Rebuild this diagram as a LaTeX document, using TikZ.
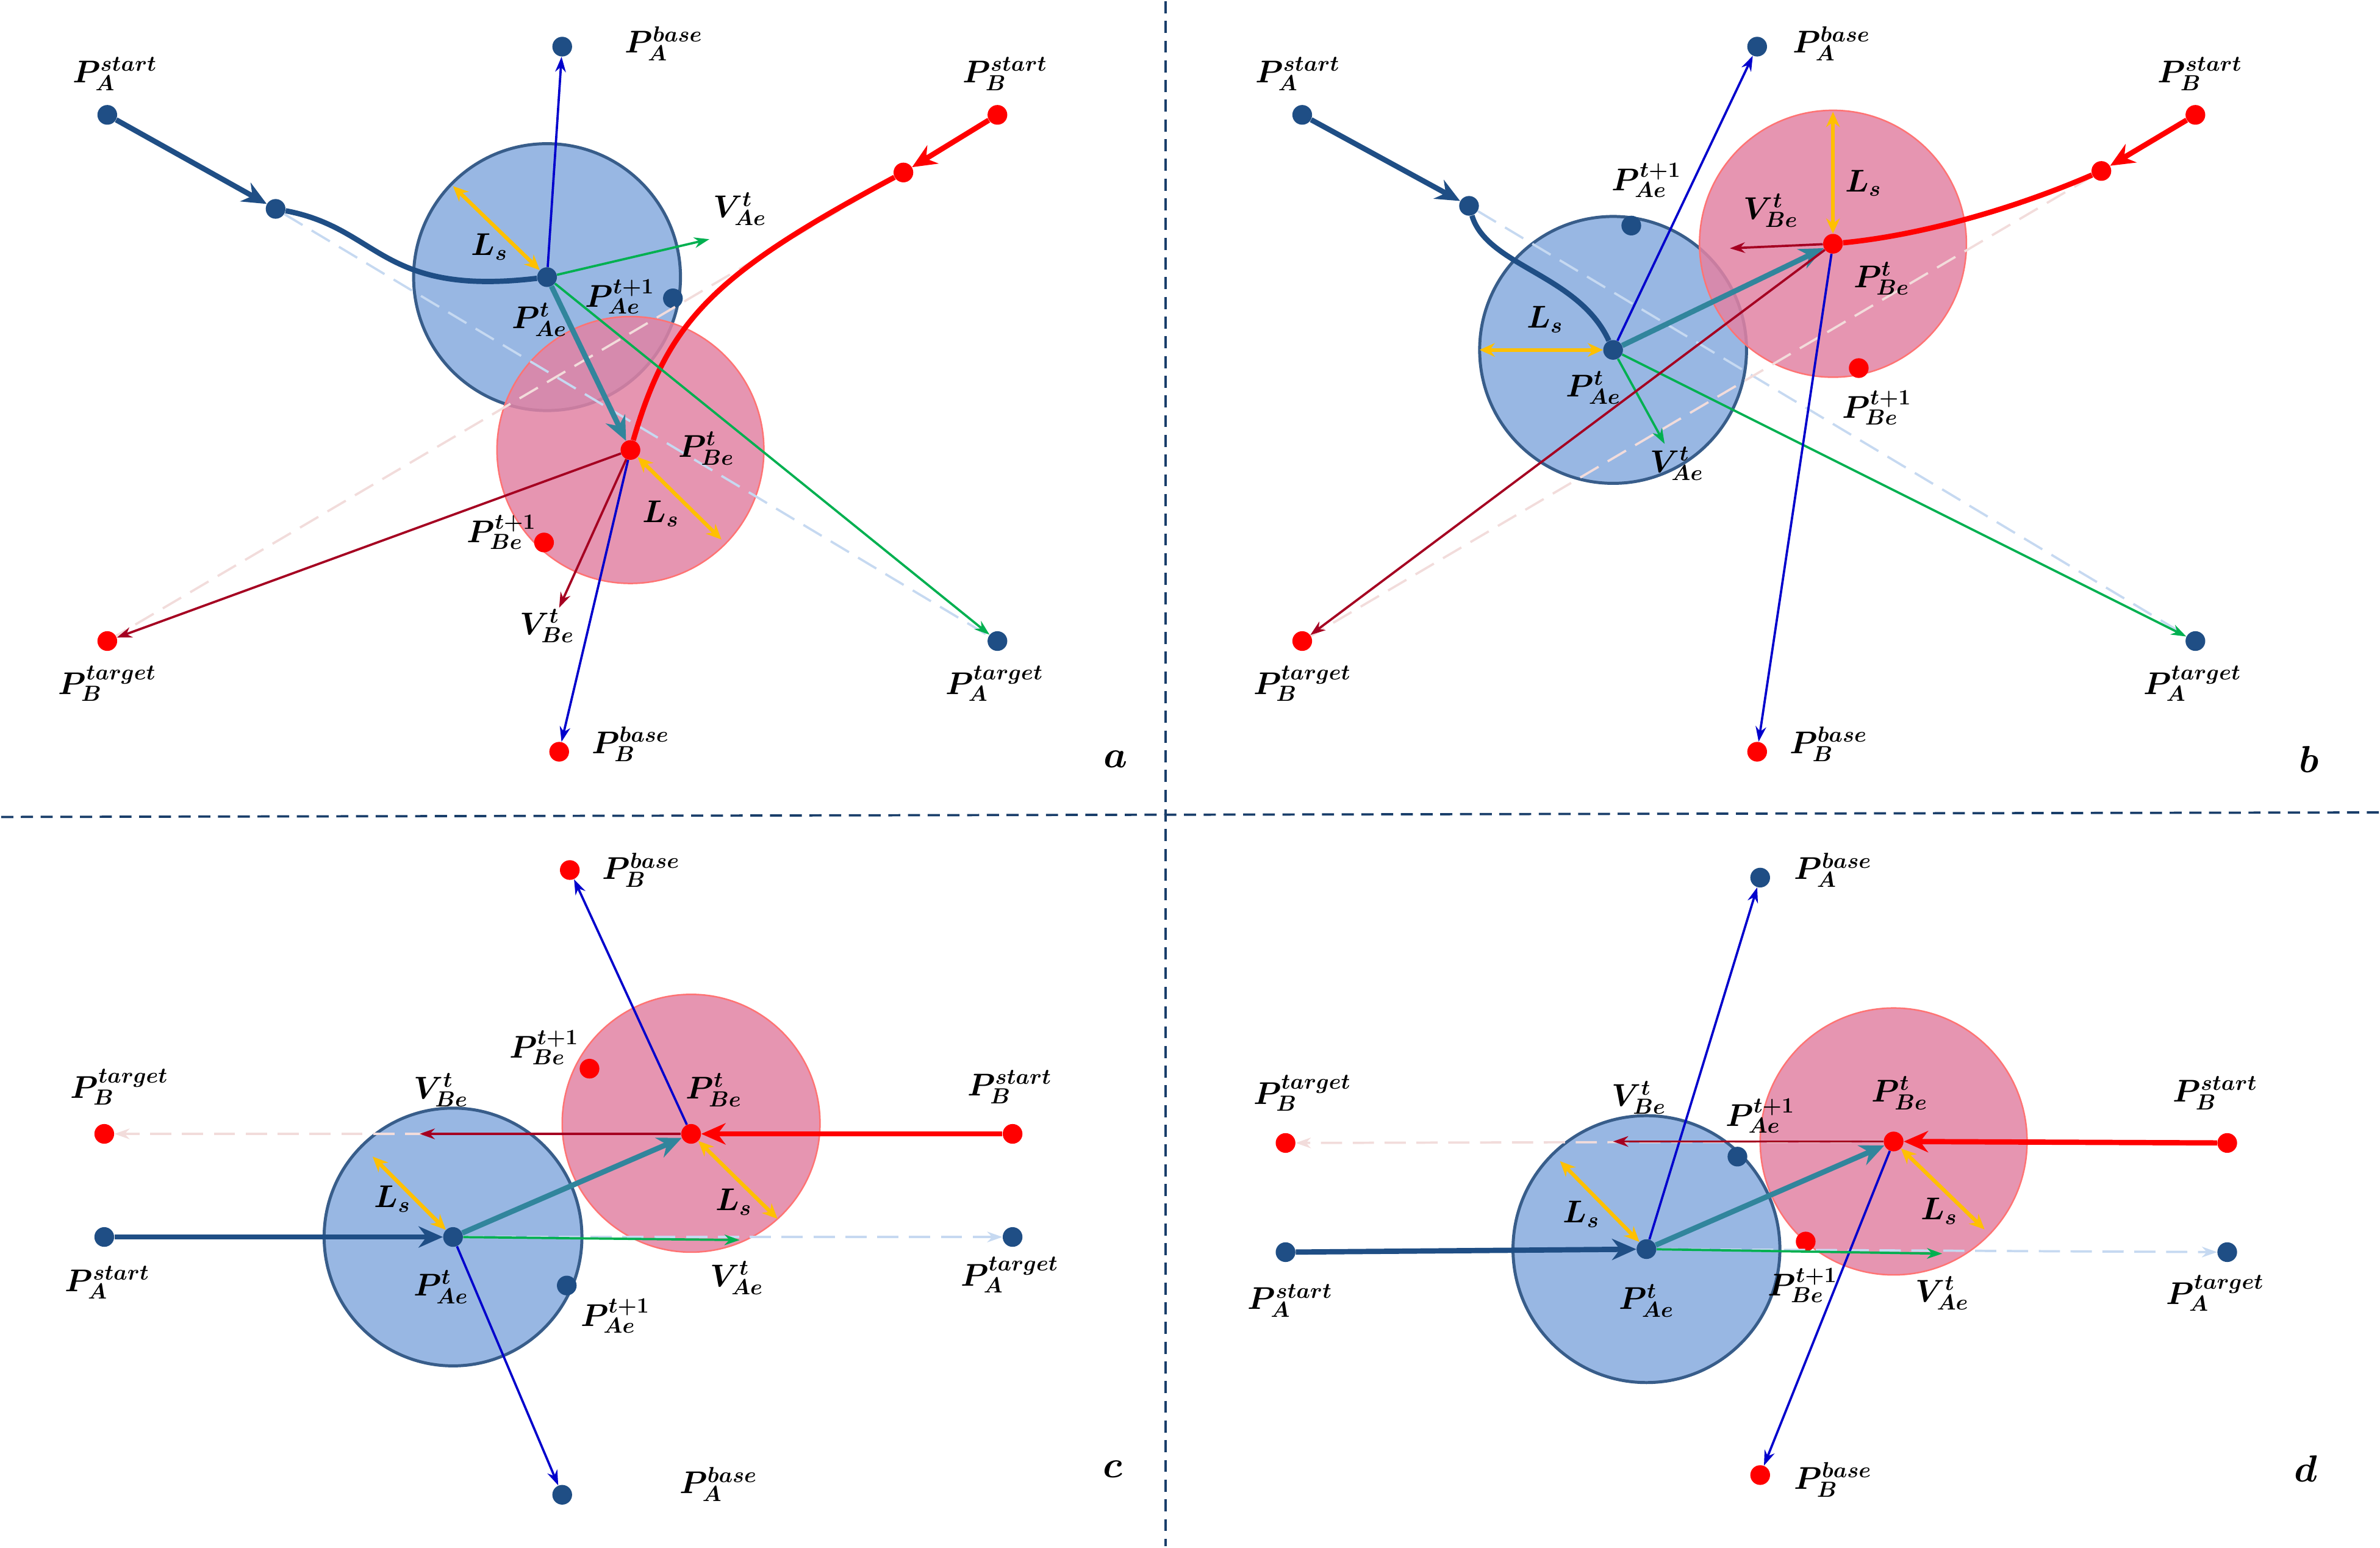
\documentclass[tikz,border=0pt]{standalone}
\usepackage{bm}
\usetikzlibrary{arrows.meta}
\newcommand{\lb}[3]{\fontsize{20}{22}\selectfont$\bm{P}^{\bm{#2}}_{\bm{#3}}$}
\newcommand{\lv}[2]{\fontsize{20}{22}\selectfont$\bm{V}^{\bm{#1}}_{\bm{#2}}$}
\newcommand{\ls}{\fontsize{20}{22}\selectfont$\bm{L_s}$}
\begin{document}
\begin{tikzpicture}[x=1pt,y=-1pt,
 bc/.style={circle,draw=circb,line width=2pt,fill=bluefill,fill opacity=0.9,inner sep=0,minimum size=176pt},
 rc/.style={circle,draw=red!55,line width=1pt,fill=redfill,fill opacity=0.85,inner sep=0,minimum size=176pt},
 bd/.style={circle,fill=dkblue,inner sep=0,minimum size=13pt},
 rd/.style={circle,fill=red,inner sep=0,minimum size=13pt},
 thb/.style={line width=3.5pt,dkblue,-{Stealth[length=16pt,width=14pt]}},
 thr/.style={line width=3.5pt,red,-{Stealth[length=16pt,width=14pt]}},
 teal/.style={line width=3.5pt,tealc,-{Stealth[length=16pt,width=14pt]}},
 bl/.style={line width=1.5pt,bluec,-{Stealth[length=10pt,width=7pt]}},
 gr/.style={line width=1.5pt,greenc,-{Stealth[length=10pt,width=7pt]}},
 dr/.style={line width=1.5pt,darkred,-{Stealth[length=10pt,width=7pt]}},
 ls/.style={line width=2.5pt,yell,{Stealth[length=10pt,width=9pt]}-{Stealth[length=10pt,width=9pt]}},
 dbl/.style={line width=1.5pt,lblue,dash pattern=on 14pt off 7pt},
 dpk/.style={line width=1.5pt,lpink,dash pattern=on 14pt off 7pt},
 t/.style={inner sep=0}]
\definecolor{bluefill}{HTML}{8DB0E0}
\definecolor{redfill}{HTML}{E283A4}
\definecolor{dkblue}{HTML}{1F4E85}
\definecolor{circb}{HTML}{385D8A}
\definecolor{tealc}{HTML}{31859C}
\definecolor{bluec}{HTML}{0000CC}
\definecolor{greenc}{HTML}{00B050}
\definecolor{darkred}{HTML}{A50021}
\definecolor{yell}{HTML}{FFC000}
\definecolor{lblue}{HTML}{C6D9F1}
\definecolor{lpink}{HTML}{F2DCDB}
\fill[white] (0,0) rectangle (1568,1019);
\draw[dkblue!80!black,line width=1.5pt,dash pattern=on 8pt off 5pt] (768,0) -- (768,1019);
\draw[dkblue!80!black,line width=1.5pt,dash pattern=on 8pt off 5pt] (0,538) -- (1568,535);
% ===== panel a =====
\node[bc] (ca) at (360,182) {};
\node[rc] (cra) at (415,296) {};
\node[bd] (aAs) at (70,75) {};
\node[bd] (aAm) at (181,137) {};
\node[bd] (aAe) at (360,182) {};
\node[bd] (aAb) at (370,30) {};
\node[bd] (aAn) at (443,196) {};
\node[bd] (aAt) at (657,422) {};
\node[rd] (aBs) at (657,75) {};
\node[rd] (aBm) at (595,113) {};
\node[rd] (aBe) at (415,296) {};
\node[rd] (aBt) at (70,422) {};
\node[rd] (aBb) at (368,495) {};
\node[rd] (aBn) at (358,357) {};
\coordinate (aVa) at (467,157);
\coordinate (aVb) at (368,400);
\draw[dbl] (aAm) -- (aAt);
\draw[dpk] (aBm) -- (aBt);
\draw[thb] (aAs) -- (aAm);
\draw[line width=3.5pt,dkblue] (aAm) .. controls (250,150) and (250,195) .. (aAe);
\draw[thr] (aBs) -- (aBm);
\draw[line width=3.5pt,red] (aBm) .. controls (470,180) and (440,210) .. (aBe);
\draw[bl] (aAe) -- (aAb);
\draw[gr] (aAe) -- (aVa);
\draw[gr] (aAe) -- (aAt);
\draw[teal] (aAe) -- (aBe);
\draw[dr] (aBe) -- (aBt);
\draw[bl] (aBe) -- (aBb);
\draw[dr] (aBe) -- (aVb);
\coordinate (aL1) at (298,122); \draw[ls] (aL1) -- (aAe); \node[t] at (322,162) {\ls};
\coordinate (aL2) at (475,355); \draw[ls] (aBe) -- (aL2); \node[t] at (435,338) {\ls};
\node[t] at (75,48) {\lb{P}{start}{A}};
\node[t] at (437,28) {\lb{P}{base}{A}};
\node[t] at (408,195) {\lb{P}{t+1}{Ae}};
\node[t] at (655,450) {\lb{P}{target}{A}};
\node[t] at (662,48) {\lb{P}{start}{B}};
\node[t] at (70,450) {\lb{P}{target}{B}};
\node[t] at (415,490) {\lb{P}{base}{B}};
\node[t] at (330,350) {\lb{P}{t+1}{Be}};
\node[t] at (355,210) {\lb{P}{t}{Ae}};
\node[t] at (465,295) {\lb{P}{t}{Be}};
\node[t] at (487,137) {\lv{t}{Ae}};
\node[t] at (360,412) {\lv{t}{Be}};
\node[t] at (735,500) {\fontsize{30}{32}\selectfont$\bm{a}$};
% ===== panel b =====
\node[bc] (cb) at (1063,230) {};
\node[rc] (crb) at (1208,160) {};
\node[bd] (bAs) at (858,75) {};
\node[bd] (bAm) at (968,135) {};
\node[bd] (bAe) at (1063,230) {};
\node[bd] (bAb) at (1158,30) {};
\node[bd] (bAn) at (1075,148) {};
\node[bd] (bAt) at (1447,422) {};
\node[rd] (bBs) at (1447,75) {};
\node[rd] (bBm) at (1385,112) {};
\node[rd] (bBe) at (1208,160) {};
\node[rd] (bBt) at (858,422) {};
\node[rd] (bBb) at (1158,495) {};
\node[rd] (bBn) at (1225,242) {};
\coordinate (bVa) at (1097,292);
\coordinate (bVb) at (1140,163);
\draw[dbl] (bAm) -- (bAt);
\draw[dpk] (bBm) -- (bBt);
\draw[thb] (bAs) -- (bAm);
\draw[line width=3.5pt,dkblue] (bAm) .. controls (980,175) and (1040,180) .. (bAe);
\draw[thr] (bBs) -- (bBm);
\draw[line width=3.5pt,red] (bBm) .. controls (1320,140) and (1260,155) .. (bBe);
\draw[bl] (bAe) -- (bAb);
\draw[gr] (bAe) -- (bVa);
\draw[gr] (bAe) -- (bAt);
\draw[teal] (bAe) -- (bBe);
\draw[dr] (bBe) -- (bBt);
\draw[bl] (bBe) -- (bBb);
\draw[dr] (bBe) -- (bVb);
\coordinate (bL1) at (975,230); \draw[ls] (bL1) -- (bAe); \node[t] at (1018,210) {\ls};
\coordinate (bL2) at (1208,73); \draw[ls] (bL2) -- (bBe); \node[t] at (1228,120) {\ls};
\node[t] at (855,48) {\lb{P}{start}{A}};
\node[t] at (1207,28) {\lb{P}{base}{A}};
\node[t] at (1085,118) {\lb{P}{t+1}{Ae}};
\node[t] at (1445,450) {\lb{P}{target}{A}};
\node[t] at (1450,48) {\lb{P}{start}{B}};
\node[t] at (858,450) {\lb{P}{target}{B}};
\node[t] at (1205,490) {\lb{P}{base}{B}};
\node[t] at (1237,268) {\lb{P}{t+1}{Be}};
\node[t] at (1050,255) {\lb{P}{t}{Ae}};
\node[t] at (1240,183) {\lb{P}{t}{Be}};
\node[t] at (1105,305) {\lv{t}{Ae}};
\node[t] at (1167,138) {\lv{t}{Be}};
\node[t] at (1522,500) {\fontsize{30}{32}\selectfont$\bm{b}$};
% ===== panel c =====
\node[bc,minimum size=170pt] (cc) at (298,815) {};
\node[rc,minimum size=170pt] (crc) at (455,740) {};
\node[bd] (cAs) at (68,815) {};
\node[bd] (cAe) at (298,815) {};
\node[bd] (cAb) at (370,985) {};
\node[bd] (cAn) at (373,847) {};
\node[bd] (cAt) at (667,815) {};
\node[rd] (cBs) at (667,747) {};
\node[rd] (cBe) at (455,747) {};
\node[rd] (cBt) at (68,747) {};
\node[rd] (cBb) at (375,573) {};
\node[rd] (cBn) at (388,704) {};
\coordinate (cVa) at (487,817);
\coordinate (cVb) at (276,747);
\draw[dbl,-{Stealth[length=10pt,width=7pt]}] (cAe) -- (cAt);
\draw[dpk,-{Stealth[length=10pt,width=7pt]}] (cBe) -- (cBt);
\draw[thb] (cAs) -- (cAe);
\draw[thr] (cBs) -- (cBe);
\draw[bl] (cBe) -- (cBb);
\draw[bl] (cAe) -- (cAb);
\draw[gr] (cAe) -- (cVa);
\draw[teal] (cAe) -- (cBe);
\draw[dr] (cBe) -- (cVb);
\coordinate (cL1) at (245,762); \draw[ls] (cL1) -- (cAe); \node[t] at (258,790) {\ls};
\coordinate (cL2) at (512,803); \draw[ls] (cBe) -- (cL2); \node[t] at (483,792) {\ls};
\node[t] at (70,845) {\lb{P}{start}{A}};
\node[t] at (473,978) {\lb{P}{base}{A}};
\node[t] at (405,867) {\lb{P}{t+1}{Ae}};
\node[t] at (665,840) {\lb{P}{target}{A}};
\node[t] at (665,716) {\lb{P}{start}{B}};
\node[t] at (78,716) {\lb{P}{target}{B}};
\node[t] at (422,573) {\lb{P}{base}{B}};
\node[t] at (358,690) {\lb{P}{t+1}{Be}};
\node[t] at (290,848) {\lb{P}{t}{Ae}};
\node[t] at (470,718) {\lb{P}{t}{Be}};
\node[t] at (485,842) {\lv{t}{Ae}};
\node[t] at (290,718) {\lv{t}{Be}};
\node[t] at (733,968) {\fontsize{30}{32}\selectfont$\bm{c}$};
% ===== panel d =====
\node[bc] (cd) at (1085,823) {};
\node[rc] (crd) at (1248,752) {};
\node[bd] (dAs) at (847,825) {};
\node[bd] (dAe) at (1085,823) {};
\node[bd] (dAb) at (1160,578) {};
\node[bd] (dAn) at (1145,762) {};
\node[bd] (dAt) at (1468,825) {};
\node[rd] (dBs) at (1468,753) {};
\node[rd] (dBe) at (1248,752) {};
\node[rd] (dBt) at (847,753) {};
\node[rd] (dBb) at (1160,972) {};
\node[rd] (dBn) at (1190,818) {};
\coordinate (dVa) at (1280,826);
\coordinate (dVb) at (1063,752);
\draw[dbl,-{Stealth[length=10pt,width=7pt]}] (dAe) -- (dAt);
\draw[dpk,-{Stealth[length=10pt,width=7pt]}] (dBe) -- (dBt);
\draw[thb] (dAs) -- (dAe);
\draw[thr] (dBs) -- (dBe);
\draw[bl] (dAe) -- (dAb);
\draw[bl] (dBe) -- (dBb);
\draw[gr] (dAe) -- (dVa);
\draw[teal] (dAe) -- (dBe);
\draw[dr] (dBe) -- (dVb);
\coordinate (dL1) at (1028,765); \draw[ls] (dL1) -- (dAe); \node[t] at (1042,800) {\ls};
\coordinate (dL2) at (1308,810); \draw[ls] (dBe) -- (dL2); \node[t] at (1278,798) {\ls};
\node[t] at (850,857) {\lb{P}{start}{A}};
\node[t] at (1208,573) {\lb{P}{base}{A}};
\node[t] at (1160,735) {\lb{P}{t+1}{Ae}};
\node[t] at (1460,852) {\lb{P}{target}{A}};
\node[t] at (1460,720) {\lb{P}{start}{B}};
\node[t] at (858,720) {\lb{P}{target}{B}};
\node[t] at (1208,975) {\lb{P}{base}{B}};
\node[t] at (1188,847) {\lb{P}{t+1}{Be}};
\node[t] at (1085,857) {\lb{P}{t}{Ae}};
\node[t] at (1252,720) {\lb{P}{t}{Be}};
\node[t] at (1280,852) {\lv{t}{Ae}};
\node[t] at (1080,723) {\lv{t}{Be}};
\node[t] at (1520,968) {\fontsize{30}{32}\selectfont$\bm{d}$};
\end{tikzpicture}
\end{document}
